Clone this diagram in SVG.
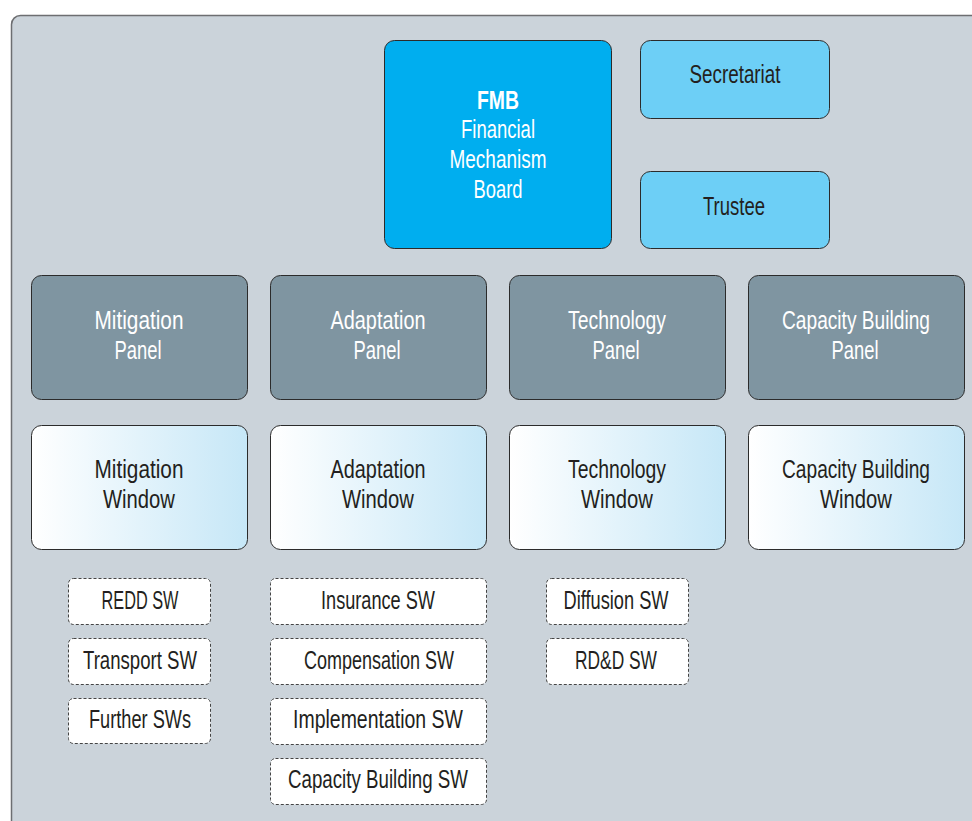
<svg xmlns="http://www.w3.org/2000/svg" width="972" height="821" viewBox="0 0 972 821">
<defs>
<linearGradient id="win" x1="0" y1="0" x2="1" y2="0">
<stop offset="0" stop-color="#ffffff"/>
<stop offset="1" stop-color="#c6e7f7"/>
</linearGradient>
<style>
text{font-family:"Liberation Sans",Arial,sans-serif;font-size:26px;text-anchor:middle;fill:#231f20}
.fmb rect{fill:#00aeef;stroke:#2b2b2b;stroke-width:1}
.lt rect{fill:#6dcff6;stroke:#2b2b2b;stroke-width:1}
.pan rect{fill:#7f95a1;stroke:#2b2b2b;stroke-width:1}
.pan text,.fmb text{fill:#ffffff}
.win rect{fill:url(#win);stroke:#2b2b2b;stroke-width:1}
.sw rect{fill:#ffffff;stroke:#444;stroke-width:1;stroke-dasharray:3 2}
</style>
</defs>
<rect x="0" y="0" width="972" height="821" fill="#ffffff"/>
<rect x="11.5" y="15.5" width="990" height="840" rx="9" fill="#cbd3da" stroke="#6d6e71" stroke-width="1.5"/>
<g id="connectors"/>
<g id="fmb" class="fmb"><rect x="384.5" y="40.5" width="227" height="208" rx="10"/>
<text x="498" y="109" font-weight="bold" textLength="42" lengthAdjust="spacingAndGlyphs">FMB</text><text x="498" y="138" textLength="74" lengthAdjust="spacingAndGlyphs">Financial</text><text x="498" y="168" textLength="97" lengthAdjust="spacingAndGlyphs">Mechanism</text><text x="498" y="198" textLength="49" lengthAdjust="spacingAndGlyphs">Board</text></g>
<g id="secretariat" class="lt"><rect x="640.5" y="40.5" width="189" height="78" rx="10"/><text x="735" y="83" textLength="91" lengthAdjust="spacingAndGlyphs">Secretariat</text></g>
<g id="trustee" class="lt"><rect x="640.5" y="171.5" width="189" height="77" rx="10"/><text x="734" y="215" textLength="62" lengthAdjust="spacingAndGlyphs">Trustee</text></g>
<g id="mit-panel" class="pan"><rect x="31.5" y="275.5" width="216" height="124" rx="10"/><text x="139" y="329" textLength="89" lengthAdjust="spacingAndGlyphs">Mitigation</text><text x="138" y="359" textLength="47" lengthAdjust="spacingAndGlyphs">Panel</text></g>
<g id="ada-panel" class="pan"><rect x="270.5" y="275.5" width="216" height="124" rx="10"/><text x="378" y="329" textLength="95" lengthAdjust="spacingAndGlyphs">Adaptation</text><text x="377" y="359" textLength="47" lengthAdjust="spacingAndGlyphs">Panel</text></g>
<g id="tec-panel" class="pan"><rect x="509.5" y="275.5" width="216" height="124" rx="10"/><text x="617" y="329" textLength="98" lengthAdjust="spacingAndGlyphs">Technology</text><text x="616" y="359" textLength="47" lengthAdjust="spacingAndGlyphs">Panel</text></g>
<g id="cap-panel" class="pan"><rect x="748.5" y="275.5" width="216" height="124" rx="10"/><text x="856" y="329" textLength="148" lengthAdjust="spacingAndGlyphs">Capacity Building</text><text x="855" y="359" textLength="47" lengthAdjust="spacingAndGlyphs">Panel</text></g>
<g id="mit-window" class="win"><rect x="31.5" y="425.5" width="216" height="124" rx="10"/><text x="139" y="478" textLength="89" lengthAdjust="spacingAndGlyphs">Mitigation</text><text x="139" y="508" textLength="72" lengthAdjust="spacingAndGlyphs">Window</text></g>
<g id="ada-window" class="win"><rect x="270.5" y="425.5" width="216" height="124" rx="10"/><text x="378" y="478" textLength="95" lengthAdjust="spacingAndGlyphs">Adaptation</text><text x="378" y="508" textLength="72" lengthAdjust="spacingAndGlyphs">Window</text></g>
<g id="tec-window" class="win"><rect x="509.5" y="425.5" width="216" height="124" rx="10"/><text x="617" y="478" textLength="98" lengthAdjust="spacingAndGlyphs">Technology</text><text x="617" y="508" textLength="72" lengthAdjust="spacingAndGlyphs">Window</text></g>
<g id="cap-window" class="win"><rect x="748.5" y="425.5" width="216" height="124" rx="10"/><text x="856" y="478" textLength="148" lengthAdjust="spacingAndGlyphs">Capacity Building</text><text x="856" y="508" textLength="72" lengthAdjust="spacingAndGlyphs">Window</text></g>
<g id="redd" class="sw"><rect x="68.5" y="578.5" width="142" height="46" rx="5"/><text x="140" y="609" textLength="77" lengthAdjust="spacingAndGlyphs">REDD SW</text></g>
<g id="transport" class="sw"><rect x="68.5" y="638.5" width="142" height="46" rx="5"/><text x="140" y="669" textLength="114" lengthAdjust="spacingAndGlyphs">Transport SW</text></g>
<g id="further" class="sw"><rect x="68.5" y="698.5" width="142" height="45" rx="5"/><text x="140" y="728" textLength="102" lengthAdjust="spacingAndGlyphs">Further SWs</text></g>
<g id="insurance" class="sw"><rect x="270.5" y="578.5" width="216" height="46" rx="5"/><text x="378" y="609" textLength="114" lengthAdjust="spacingAndGlyphs">Insurance SW</text></g>
<g id="compensation" class="sw"><rect x="270.5" y="638.5" width="216" height="46" rx="5"/><text x="379" y="669" textLength="150" lengthAdjust="spacingAndGlyphs">Compensation SW</text></g>
<g id="implementation" class="sw"><rect x="270.5" y="698.5" width="216" height="46" rx="5"/><text x="378" y="728" textLength="170" lengthAdjust="spacingAndGlyphs">Implementation SW</text></g>
<g id="capacity-sw" class="sw"><rect x="270.5" y="758.5" width="216" height="46" rx="5"/><text x="378" y="788" textLength="180" lengthAdjust="spacingAndGlyphs">Capacity Building SW</text></g>
<g id="diffusion" class="sw"><rect x="546.5" y="578.5" width="142" height="46" rx="5"/><text x="616" y="609" textLength="105" lengthAdjust="spacingAndGlyphs">Diffusion SW</text></g>
<g id="rdd" class="sw"><rect x="546.5" y="638.5" width="142" height="46" rx="5"/><text x="616" y="669" textLength="82" lengthAdjust="spacingAndGlyphs">RD&amp;D SW</text></g>
</svg>
